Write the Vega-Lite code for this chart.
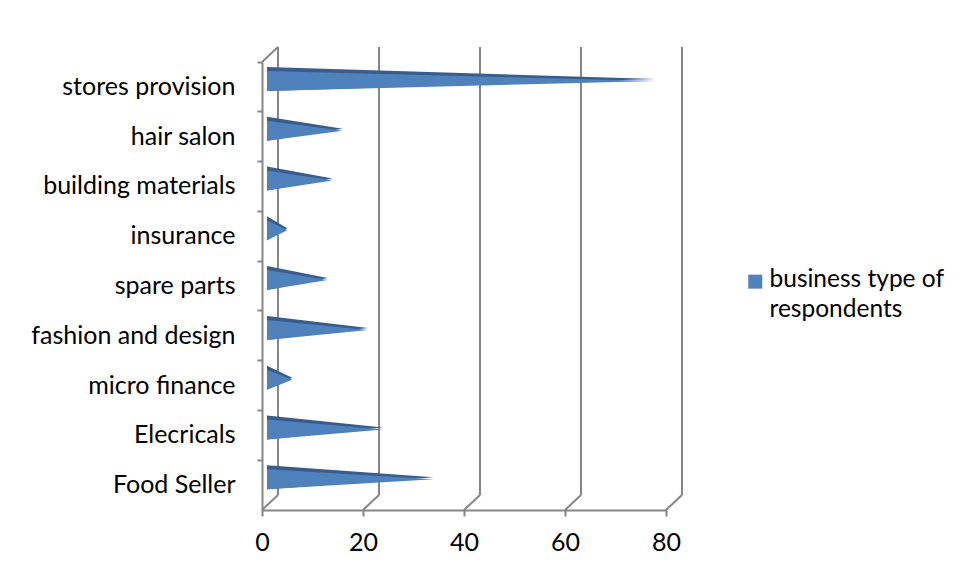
{
  "$schema": "https://vega.github.io/schema/vega-lite/v6.json",
  "width": 404,
  "height": 448,
  "autosize": {"type": "none"},
  "padding": {"left": 262, "top": 62, "right": 293, "bottom": 70},
  "background": "white",
  "config": {
    "view": {"stroke": null},
    "font": "Lato",
    "style": {"guide-label": {"lineHeight": 30}},
    "axis": {"labelFont": "Lato", "labelFontSize": 25, "labelColor": "#000000", "domainColor": "#868686", "tickColor": "#868686", "domainWidth": 2, "tickWidth": 2, "grid": false},
    "legend": {"labelFont": "Lato", "labelFontSize": 24.5, "labelColor": "#000000"}
  },
  "resolve": {"scale": {"y": "independent", "x": "independent"}, "axis": {"y": "independent", "x": "independent"}},
  "layer": [
    {
      "data": {"values": [{"tick": 0}, {"tick": 20}, {"tick": 40}, {"tick": 60}, {"tick": 80}]},
      "mark": {"type": "rule", "color": "#868686", "strokeWidth": 2, "xOffset": 16, "x2Offset": 16, "yOffset": -15, "y2Offset": -15},
      "encoding": {
        "x": {"field": "tick", "type": "quantitative", "scale": {"domain": [0, 80]},
          "axis": {"values": [0, 20, 40, 60, 80], "tickSize": 6, "labelPadding": 14, "labelFlush": false, "title": null, "orient": "bottom"}},
        "y": {"datum": 0, "type": "quantitative", "scale": {"domain": [0, 1]}, "axis": null},
        "y2": {"datum": 1}
      }
    },
    {
      "data": {"values": [{"tick": 0, "level": 0}, {"tick": 20, "level": 0}, {"tick": 40, "level": 0}, {"tick": 60, "level": 0}, {"tick": 80, "level": 0}, {"tick": 0, "level": 1}]},
      "mark": {"type": "rule", "color": "#868686", "strokeWidth": 2, "x2Offset": 16, "y2Offset": -15},
      "encoding": {
        "x": {"field": "tick", "type": "quantitative", "scale": {"domain": [0, 80]}, "axis": null},
        "x2": {"field": "tick"},
        "y": {"field": "level", "type": "quantitative", "scale": {"domain": [0, 1]}, "axis": null},
        "y2": {"field": "level"}
      }
    },
    {
      "data": {"name": "business"},
      "transform": [
        {"calculate": "0", "as": "top"},
        {"calculate": "0", "as": "bottom"},
        {"fold": ["top", "count", "bottom"], "as": ["pt", "x"]}
      ],
      "resolve": {"scale": {"yOffset": "independent"}},
      "layer": [
        {
          "mark": {"type": "area", "orient": "horizontal", "color": "#385d8a"},
          "encoding": {
            "x": {"field": "x", "type": "quantitative", "scale": {"domain": [0, 80], "range": [5, 409]}, "axis": null},
            "x2": {"datum": 0},
            "y": {"field": "type", "type": "nominal", "sort": null, "scale": {"paddingInner": 0, "paddingOuter": 0},
              "axis": {"title": null, "orient": "left", "bandPosition": 0, "tickSize": 5, "labelPadding": 22, "labelLimit": 0}},
            "yOffset": {"field": "pt", "type": "nominal", "sort": ["top", "count", "bottom"], "scale": {"type": "point", "padding": 0, "range": [5, 29]}},
            "detail": {"field": "type"}
          }
        },
        {
          "mark": {"type": "area", "orient": "horizontal"},
          "encoding": {
            "x": {"field": "x", "type": "quantitative", "axis": null},
            "x2": {"datum": 0},
            "y": {"field": "type", "type": "nominal", "sort": null,
              "axis": {"title": null, "orient": "left", "bandPosition": 0, "tickSize": 5, "labelPadding": 22, "labelLimit": 0}},
            "yOffset": {"field": "pt", "type": "nominal", "sort": ["top", "count", "bottom"], "scale": {"type": "point", "padding": 0, "range": [9, 29]}},
            "detail": {"field": "type"},
            "color": {"field": "series", "type": "nominal", "scale": {"range": ["#4f81bd"]},
              "legend": {"title": null, "orient": "none", "legendX": 481, "legendY": 213, "symbolType": "M-1,-1.8H1V0.2H-1Z", "symbolSize": 196, "symbolFillColor": "#4f81bd", "symbolStrokeWidth": 0, "labelExpr": "['business type of', 'respondents']", "labelLimit": 0, "labelOffset": 2, "labelBaseline": "alphabetic"}}
          }
        }
      ]
    }
  ],
  "datasets": {
    "business": [
      {"type": "stores provision", "count": 77, "series": "business type of respondents"},
      {"type": "hair salon", "count": 15, "series": "business type of respondents"},
      {"type": "building materials", "count": 13, "series": "business type of respondents"},
      {"type": "insurance", "count": 4, "series": "business type of respondents"},
      {"type": "spare parts", "count": 12, "series": "business type of respondents"},
      {"type": "fashion and design", "count": 20, "series": "business type of respondents"},
      {"type": "micro finance", "count": 5, "series": "business type of respondents"},
      {"type": "Elecricals", "count": 23, "series": "business type of respondents"},
      {"type": "Food Seller", "count": 33, "series": "business type of respondents"}
    ]
  }
}
